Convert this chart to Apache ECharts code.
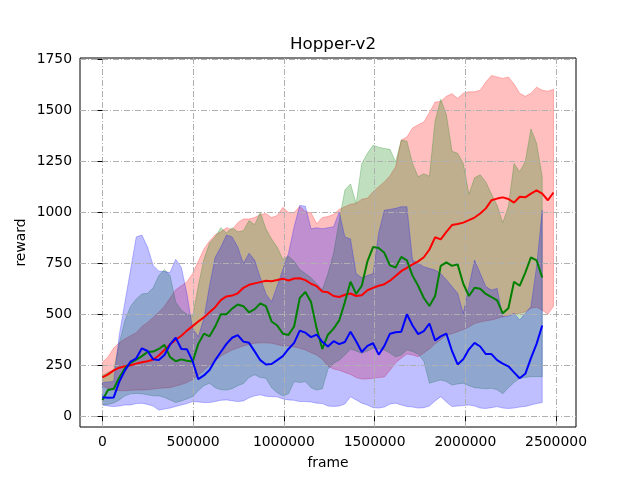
<!DOCTYPE html>
<html>
<head>
<meta charset="utf-8">
<title>Hopper-v2</title>
<script src="https://cdn.jsdelivr.net/npm/echarts@6/dist/echarts.min.js"></script>
<style>
  html, body { margin: 0; padding: 0; background: #fff; }
  #chart { width: 640px; height: 480px; }
</style>
</head>
<body>
<div id="chart"></div>
<script>
// x positions (frames) of the logged points
const frames = [0, 31075, 62150, 93225, 124300, 155375, 186450, 217525, 248600, 279675,
  310750, 341825, 372900, 403975, 435050, 466125, 497200, 528275, 559350, 590425,
  621500, 652575, 683650, 714725, 745800, 776875, 807950, 839025, 870100, 901175,
  932250, 963325, 994400, 1025475, 1056550, 1087625, 1118700, 1149775, 1180850, 1211925,
  1243000, 1274075, 1305150, 1336225, 1367300, 1398375, 1429450, 1460525, 1491600, 1522675,
  1553750, 1584825, 1615900, 1646975, 1678050, 1709125, 1740200, 1771275, 1802350, 1833425,
  1864500, 1895575, 1926650, 1957725, 1988800, 2019875, 2050950, 2082025, 2113100, 2144175,
  2175250, 2206325, 2237400, 2268475, 2299550, 2330625, 2361700, 2392775, 2423850, 2454925,
  2486000];

// red run
const redMean = [191, 205, 225, 238, 245, 250, 258, 265, 270, 278,
  298, 325, 352, 375, 395, 420, 442, 465, 485, 510,
  535, 570, 588, 592, 603, 630, 645, 652, 658, 665,
  662, 668, 675, 666, 676, 677, 668, 650, 638, 612,
  608, 590, 585, 596, 602, 590, 594, 618, 630, 640,
  648, 665, 688, 712, 728, 745, 760, 780, 818, 878,
  868, 905, 938, 943, 950, 962, 975, 995, 1020, 1060,
  1068, 1074, 1066, 1048, 1077, 1074, 1092, 1108, 1092, 1060, 1098];
const redHi = [265, 290, 335, 360, 380, 395, 410, 440, 460, 485,
  510, 540, 580, 620, 640, 660, 700, 760, 820, 860,
  890, 905, 925, 915, 950, 968, 968, 975, 990, 995,
  975, 985, 1025, 1000, 1000, 1030, 1005, 998, 945, 975,
  980, 990, 1015, 1028, 1040, 1044, 1065, 1070, 1101, 1126,
  1150, 1180, 1224, 1355, 1370, 1415, 1430, 1444, 1490, 1542,
  1545, 1570, 1583, 1560, 1585, 1592, 1592, 1600, 1640, 1672,
  1665, 1658, 1665, 1630, 1585, 1570, 1585, 1615, 1600, 1595, 1605];
const redLo = [150, 135, 128, 125, 125, 127, 128, 128, 130, 133,
  137, 139, 140, 148, 155, 165, 180, 200, 225, 250,
  270, 295, 310, 325, 335, 345, 352, 358, 360, 360,
  358, 352, 345, 345, 340, 333, 325, 312, 300, 280,
  245, 232, 225, 215, 205, 190, 182, 183, 186, 190,
  192, 225, 262, 285, 305, 300, 292, 310, 330, 355,
  375, 398, 405, 415, 425, 438, 455, 462, 468, 472,
  480, 488, 495, 500, 505, 512, 530, 535, 520, 500, 540];

// green run
const greenMean = [80, 129, 135, 190, 235, 262, 278, 295, 315, 317,
  330, 350, 290, 270, 279, 272, 268, 355, 405, 392,
  440, 500, 500, 528, 548, 540, 510, 525, 554, 540,
  465, 445, 405, 399, 440, 580, 610, 560, 430, 330,
  400, 430, 470, 560, 660, 600, 640, 760, 830, 825,
  802, 740, 730, 782, 765, 690, 640, 580, 541, 590,
  738, 755, 738, 745, 650, 590, 630, 625, 600, 585,
  568, 505, 530, 660, 640, 705, 780, 765, 681];
const greenHi = [200, 215, 225, 360, 470, 540, 575, 600, 603, 630,
  690, 720, 690, 560, 520, 500, 490, 640, 770, 850,
  880, 925, 900, 925, 905, 910, 960, 940, 1000, 920,
  870, 830, 770, 785, 760, 720, 700, 680, 650, 620,
  700, 800, 960, 1110, 1140, 1044, 1240, 1290, 1330, 1320,
  1314, 1310, 1248, 1355, 1350, 1240, 1175, 1190, 1178, 1450,
  1555, 1480, 1300, 1290, 1240, 1090, 1170, 1185, 1150, 1090,
  1035, 950, 1030, 1240, 1200, 1250, 1410, 1340, 1175];
const greenLo = [55, 58, 65, 80, 100, 110, 112, 110, 105, 100,
  100, 92, 80, 67, 75, 85, 96, 125, 150, 162,
  140, 130, 128, 135, 150, 160, 190, 203, 190, 186,
  140, 115, 100, 110, 170, 165, 170, 140, 128, 135,
  230, 260, 275, 300, 330, 320, 309, 320, 333, 330,
  325, 310, 292, 300, 325, 318, 305, 270, 162, 170,
  178, 170, 153, 158, 162, 150, 140, 137, 135, 137,
  130, 110, 140, 165, 186, 190, 194, 194, 194];

// blue run
const blueMean = [93, 90, 92, 170, 225, 268, 284, 333, 320, 279,
  276, 300, 352, 385, 330, 328, 270, 182, 200, 227,
  275, 315, 355, 385, 398, 366, 360, 318, 275, 254,
  256, 275, 295, 330, 360, 420, 410, 388, 400, 365,
  342, 368, 354, 364, 415, 368, 315, 345, 358, 302,
  345, 405, 412, 415, 500, 445, 403, 418, 455, 372,
  392, 405, 320, 254, 280, 328, 360, 342, 305, 305,
  275, 258, 245, 215, 186, 208, 285, 355, 445];
const blueHi = [165, 168, 170, 400, 560, 720, 880, 889, 830, 740,
  712, 710, 705, 770, 730, 600, 430, 390, 480, 640,
  780, 830, 889, 880, 830, 750, 800, 766, 680, 600,
  562, 640, 720, 800, 930, 1035, 1030, 920, 925, 920,
  925, 930, 1003, 880, 870, 700, 680, 690, 700, 900,
  1011, 1015, 1020, 1028, 1028, 766, 750, 734, 725, 717,
  700, 670, 636, 603, 505, 636, 766, 701, 636, 619,
  627, 488, 490, 505, 472, 505, 537, 734, 1011];
const blueLo = [55, 50, 47, 50, 55, 55, 62, 64, 58, 50,
  30, 35, 40, 48, 55, 62, 72, 70, 67, 67,
  72, 78, 80, 76, 72, 75, 90, 100, 105, 98,
  96, 95, 85, 80, 78, 72, 72, 70, 64, 62,
  50, 48, 50, 60, 95, 80, 64, 55, 42, 40,
  45, 60, 64, 55, 48, 45, 40, 42, 50, 75,
  96, 70, 47, 50, 52, 55, 50, 40, 38, 42,
  47, 40, 38, 40, 45, 48, 55, 62, 67];

const xTicks = [0, 500000, 1000000, 1500000, 2000000, 2500000];
const yTicks = [0, 250, 500, 750, 1000, 1250, 1500, 1750];

const FONT = 'DejaVu Sans';
const chart = echarts.init(document.getElementById('chart'));

function pairs(vals) {
  return vals.map((v, i) => [frames[i], v]);
}

// shaded min/max region, one polygon through the axis scales
function band(lo, hi, rgb) {
  return {
    type: 'custom',
    silent: true,
    z: 1,
    data: lo.map((v, i) => [frames[i], v, hi[i]]),
    encode: { x: 0, y: [1, 2] },
    renderItem(params, api) {
      if (params.dataIndex !== 0) return null;
      const top = hi.map((v, i) => api.coord([frames[i], v]));
      const bottom = lo.map((v, i) => api.coord([frames[i], v])).reverse();
      return {
        type: 'polygon',
        shape: { points: top.concat(bottom) },
        style: { fill: 'rgba(' + rgb + ',0.25)', stroke: 'rgba(' + rgb + ',0.25)', lineWidth: 1 }
      };
    }
  };
}

function line(vals, color) {
  return {
    type: 'line',
    data: pairs(vals),
    symbol: 'none',
    silent: true,
    z: 2,
    lineStyle: { color: color, width: 2 },
    itemStyle: { color: color }
  };
}

const gridLine = { show: true, lineStyle: { color: '#b0b0b0', width: 1, type: [6, 2, 1, 2] } };
const labelStyle = { color: '#000', fontSize: 13.9, fontFamily: FONT, margin: 8 };

chart.setOption({
  animation: false,
  backgroundColor: '#fff',
  title: {
    text: 'Hopper-v2',
    left: 328,
    top: 31,
    textAlign: 'center',
    textStyle: { fontSize: 16.7, fontWeight: 'normal', fontFamily: FONT, color: '#000' }
  },
  grid: {
    left: 80, right: 64, top: 58, bottom: 53,
    show: true, borderColor: '#000', borderWidth: 1, backgroundColor: 'transparent'
  },
  xAxis: {
    type: 'value',
    min: -123500,
    max: 2610000,
    z: 1.5,
    axisLine: { show: false },
    axisTick: { show: true, customValues: xTicks, length: 5, lineStyle: { color: '#000', width: 1 } },
    axisLabel: Object.assign({ customValues: xTicks, formatter: v => String(v) }, labelStyle),
    splitLine: gridLine,
    name: 'frame',
    nameLocation: 'middle',
    nameGap: 29,
    nameMoveOverlap: false,
    nameTextStyle: { color: '#000', fontSize: 13.9, fontFamily: FONT }
  },
  yAxis: {
    type: 'value',
    min: -53,
    max: 1758,
    z: 1.5,
    axisLine: { show: false },
    axisTick: { show: true, customValues: yTicks, length: 5, lineStyle: { color: '#000', width: 1 } },
    axisLabel: Object.assign({ customValues: yTicks, formatter: v => String(v) }, labelStyle),
    splitLine: gridLine,
    name: 'reward',
    nameLocation: 'middle',
    nameGap: 52,
    nameMoveOverlap: false,
    nameTextStyle: { color: '#000', fontSize: 13.9, fontFamily: FONT }
  },
  series: [
    band(redLo, redHi, '255,0,0'),
    band(greenLo, greenHi, '0,128,0'),
    band(blueLo, blueHi, '0,0,255'),
    line(redMean, '#ff0000'),
    line(greenMean, '#008000'),
    line(blueMean, '#0000ff')
  ]
});
</script>
</body>
</html>
